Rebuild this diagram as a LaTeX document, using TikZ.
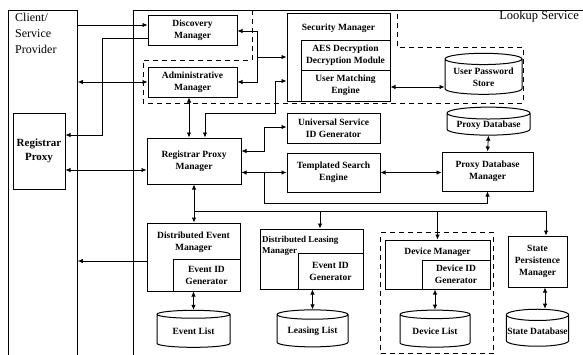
\documentclass[tikz,border=0pt]{standalone}
\usepackage{fontspec}
\setmainfont{Liberation Serif}
\usetikzlibrary{shapes.geometric,arrows.meta}

\begin{document}
\begin{tikzpicture}[x=1pt,y=-1pt,
  box/.style={draw, line width=1pt, align=center, inner sep=1pt, font=\fontsize{9.5}{12}\selectfont\bfseries},
  store/.style={draw, line width=1pt, cylinder, shape border rotate=90, aspect=0.18, align=center, inner sep=1pt, font=\fontsize{9.5}{12}\selectfont\bfseries},
  frame/.style={draw, line width=0.8pt, inner sep=0pt},
  zone/.style={draw, line width=1pt, dash pattern=on 5pt off 4pt},
  lbl/.style={align=center, inner sep=0pt, font=\fontsize{9.5}{12}\selectfont\bfseries},
  link/.style={line width=0.8pt},
  >={Latex[length=5pt,width=4.5pt]}]
\useasboundingbox (0,0) rectangle (583,354);

% Outer frames
\node[frame, minimum width=69, minimum height=350, anchor=north west] (client) at (8,10) {};
\node[frame, minimum width=460, minimum height=350, anchor=north west] (lookup) at (133,10) {};
\node[anchor=north west, align=left, inner sep=0pt, font=\fontsize{12}{16}\selectfont] (clientlbl) at (15,13) {Client/\\Service\\Provider};
\node[anchor=north east, inner sep=0pt, font=\fontsize{12.5}{14}\selectfont] (lookuplbl) at (579,11) {Lookup Service};
\node[box, minimum width=52, minimum height=76, font=\fontsize{11}{14}\selectfont\bfseries] (regproxy) at (39,151) {Registrar\\Proxy};

% Dashed groups
\draw[zone] (252,10) -- (252,60) -- (143,60) -- (143,103) -- (523,103) -- (523,47) -- (397,47) -- (397,10);
\node[zone, minimum width=113, minimum height=121, anchor=north west] (devzone) at (380,232) {};

% Upper managers
\node[box, minimum width=89, minimum height=30] (disc) at (192.5,30) {Discovery\\Manager};
\node[box, minimum width=89, minimum height=30] (admin) at (192.5,82) {Administrative\\Manager};
\node[box, minimum width=103, minimum height=88] (sec) at (338.5,57) {};
\node[lbl] (sectitle) at (338.5,28) {Security Manager};
\node[box, minimum width=89, minimum height=30] (aes) at (345.5,55) {AES Decryption\\Decryption Module};
\node[box, minimum width=89, minimum height=31] (ume) at (345.5,85.5) {User Matching\\Engine};
\node[store, minimum width=77, minimum height=41] (ups) at (483.5,77.5) {User Password\\Store};

% Middle row
\node[box, minimum width=94, minimum height=46] (rpm) at (194,161) {Registrar Proxy\\Manager};
\node[box, minimum width=93, minimum height=30] (usig) at (333.5,128) {Universal Service\\ID Generator};
\node[box, minimum width=93, minimum height=39] (tse) at (333.5,172.5) {Templated Search\\Engine};
\node[box, minimum width=91, minimum height=39] (pdbm) at (487.5,171.5) {Proxy Database\\Manager};
\node[store, minimum width=83, minimum height=28] (pdb) at (488.5,125) {Proxy Database};

% Lower managers
\node[box, minimum width=93, minimum height=68] (dem) at (193.5,257) {};
\node[lbl] (demtitle) at (193.5,242) {Distributed Event\\Manager};
\node[box, minimum width=67, minimum height=32] (eidg1) at (206.5,275) {Event ID\\Generator};
\node[box, minimum width=103, minimum height=60] (dlm) at (311.5,259) {};
\node[lbl, align=left, anchor=west, font=\fontsize{9}{11}\selectfont\bfseries] (dlmtitle) at (262,246) {Distributed Leasing\\Manager};
\node[box, minimum width=65, minimum height=36] (eidg2) at (330.5,271) {Event ID\\Generator};
\node[box, minimum width=105, minimum height=49] (dm) at (437.5,264.5) {};
\node[lbl] (dmtitle) at (437.5,252) {Device Manager};
\node[box, minimum width=68, minimum height=29] (didg) at (456,274.5) {Device ID\\Generator};
\node[box, minimum width=59, minimum height=51] (spm) at (537.5,261.5) {State\\Persistence\\Manager};

% Stores
\node[store, minimum width=73, minimum height=37] (evl) at (193.5,331.5) {Event List};
\node[store, minimum width=71, minimum height=37] (lsl) at (312.5,331.5) {Leasing List};
\node[store, minimum width=70, minimum height=37] (dvl) at (435,331.5) {Device List};
\node[store, minimum width=59, minimum height=37] (sdb) at (537.5,331.5) {State Database};

% Client side links
\draw[link,->] (client.east |- 0,25) -- (disc.west |- 0,25);
\draw[link,->] (disc.west |- 0,38) -- (102,38) |- (regproxy.east |- 0,135);
\draw[link,<->] (client.east |- admin.west) -- (admin.west);
\draw[link,<->] (regproxy.east |- 0,170) -- (rpm.west |- 0,170);
\draw[link,->] (dem.west |- 0,261) -- (client.east |- 0,261);

% Security links
\coordinate (secjct) at (257,57);
\draw[link,->] (secjct) |- (disc.east |- 0,31);
\draw[link,->] (secjct) |- (admin.east);
\draw[link,->] (secjct) -- (sec.west |- secjct);
\draw[link,<->] (sec.west |- 0,81) -- (275,81) |- (205,113) -- (rpm.north -| 205,0);
\draw[link,<->] (admin.south -| 189,0) -- (rpm.north -| 189,0);
\draw[link,<->] (ume.east |- 0,87) -- (ups.west |- 0,87);

% Registrar proxy manager links
\draw[link,<->] (rpm.east |- 0,151) -| (264,127) -- (usig.west |- 0,127);
\draw[link,<->] (rpm.east |- tse.west) -- (tse.west);
\draw[link,->] (264,172.5) |- (pdbm.south |- 0,203) -- (pdbm.south);
\draw[link,<->] (tse.east) -- (pdbm.west |- tse.east);
\draw[link,<->] (pdb.south) -- (pdbm.north);

% Bus to lower managers
\draw[link,<->] (rpm.south) -- (dem.north -| rpm.south);
\draw[link] (rpm.south |- 0,211) -- (546,211);
\draw[link,->] (320,211) -- (dlm.north -| 320,0);
\draw[link,->] (dm.north |- 0,211) -- (dm.north);
\draw[link,->] (546,211) -- (spm.north -| 546,0);

% Lists
\draw[link,<->] (dem.south -| evl.north) -- (evl.north);
\draw[link,<->] (dlm.south -| lsl.north) -- (lsl.north);
\draw[link,<->] (dm.south -| dvl.north) -- (dvl.north);
\draw[link,<->] (spm.south -| 545,0) -- (sdb.north -| 545,0);
\end{tikzpicture}
\end{document}
